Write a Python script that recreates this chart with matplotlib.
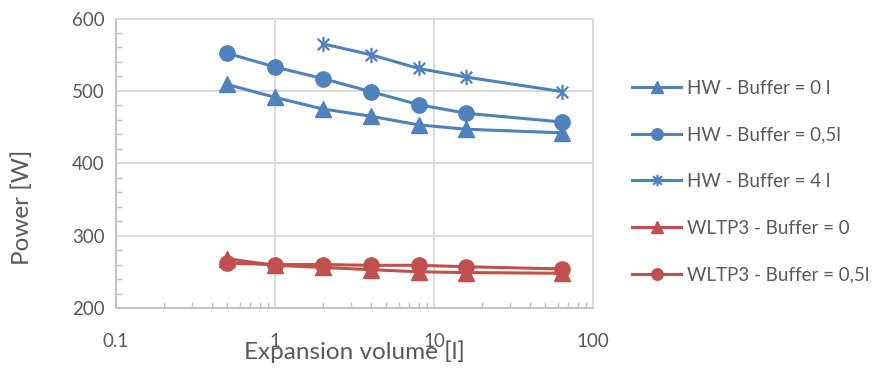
import matplotlib
matplotlib.use("Agg")
import matplotlib.pyplot as plt
from matplotlib.ticker import FixedLocator, NullFormatter, LogLocator
from matplotlib.path import Path

plt.rcParams['font.family'] = ['Lato', 'DejaVu Sans']

x_hw = [0.5, 1, 2, 4, 8, 16, 64]
hw_buf0 = [509, 491, 475, 465, 453, 447, 442]
hw_buf05 = [552, 533, 517, 499, 481, 469, 457]
x_hw4 = [2, 4, 8, 16, 64]
hw_buf4 = [565, 550, 531, 519, 499]
x_wltp = [0.5, 1, 2, 4, 8, 16, 64]
wltp_buf0 = [268, 259, 256, 253, 250, 249, 248]
wltp_buf05 = [262, 260, 260, 259, 259, 257, 254]

labels = ["HW - Buffer = 0 l", "HW - Buffer = 0,5l", "HW - Buffer = 4 l",
          "WLTP3 - Buffer = 0", "WLTP3 - Buffer = 0,5l"]
xticks = [0.1, 1, 10, 100]
xticklabels = ["0.1", "1", "10", "100"]
yticks = [200, 300, 400, 500, 600]

blue = "#4f81bd"
red = "#c0504d"
grid_c = "#d9d9d9"
text_c = "#595959"

# Excel-like star marker: vertical bar + X
star = Path([(0, -1), (0, 1), (-0.75, -0.75), (0.75, 0.75), (-0.75, 0.75), (0.75, -0.75)],
            [Path.MOVETO, Path.LINETO, Path.MOVETO, Path.LINETO, Path.MOVETO, Path.LINETO])

fig = plt.figure(figsize=(8.72, 3.70), dpi=100)
ax = fig.add_axes([116/872, 1-308/370, (593-116)/872, (308-18.5)/370])

lw = 2.2
ms = 11
ax.plot(x_hw, hw_buf0, color=blue, lw=lw, marker='^', ms=ms, label=labels[0])
ax.plot(x_hw, hw_buf05, color=blue, lw=lw, marker='o', ms=ms, label=labels[1])
ax.plot(x_hw4, hw_buf4, color=blue, lw=lw, marker=star, ms=ms, mew=1.6, label=labels[2])
ax.plot(x_wltp, wltp_buf0, color=red, lw=lw, marker='^', ms=ms, label=labels[3])
ax.plot(x_wltp, wltp_buf05, color=red, lw=lw, marker='o', ms=ms, label=labels[4])

ax.set_xscale('log')
ax.set_xlim(0.1, 100)
ax.set_ylim(200, 600)
ax.set_xticks(xticks)
ax.set_xticklabels(xticklabels)
ax.xaxis.set_minor_locator(LogLocator(base=10, subs=range(2, 10)))
ax.xaxis.set_minor_formatter(NullFormatter())
ax.set_yticks(yticks)
ax.yaxis.set_minor_locator(FixedLocator(list(range(200, 601, 20))))

ax.grid(True, which='major', color=grid_c, lw=1.3)
ax.set_axisbelow(True)
for s in ax.spines.values():
    s.set_color(grid_c)
    s.set_linewidth(1.3)
ax.spines['left'].set_color("#bfbfbf")
ax.spines['bottom'].set_color("#bfbfbf")

ax.tick_params(axis='both', which='major', length=0, labelsize=13.5, labelcolor=text_c)
ax.tick_params(axis='y', which='major', pad=8)
ax.tick_params(axis='x', which='major', pad=18)
ax.tick_params(axis='both', which='minor', direction='in', length=4, color="#bfbfbf", width=1)

ax.set_xlabel("Expansion volume [l]", fontsize=17.5, color=text_c)
ax.xaxis.set_label_coords(0.5, -0.112)
ax.set_ylabel("Power [W]", fontsize=17.5, color=text_c, va='center')
ax.yaxis.set_label_coords((22-116)/477, (308-207)/289.5)

leg = fig.legend(loc='upper left', bbox_to_anchor=(628/872, 1-76/370), frameon=False,
                 fontsize=13.5, labelcolor=text_c, handlelength=2.65, labelspacing=1.58,
                 handletextpad=0.3, markerscale=0.75, borderaxespad=0, borderpad=0.2)

fig.savefig("out.png", dpi=100)
